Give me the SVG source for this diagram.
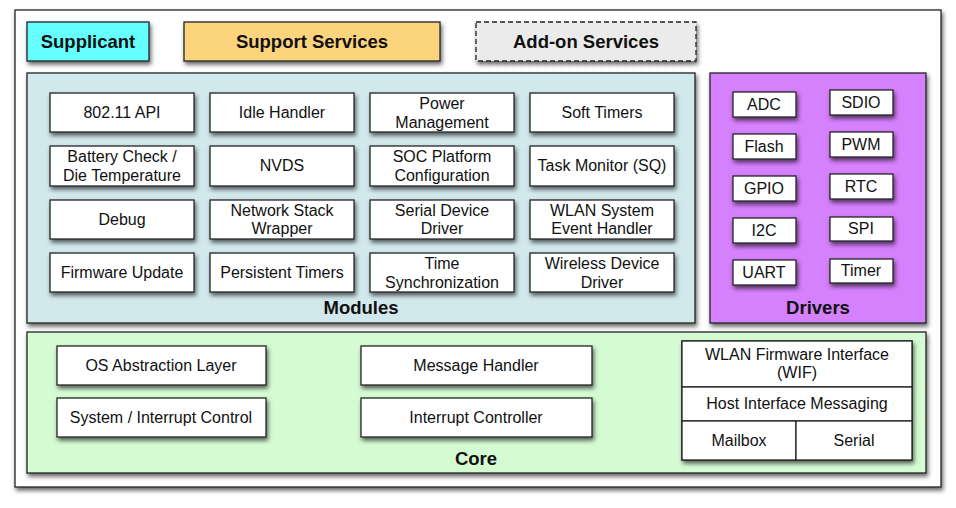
<svg xmlns="http://www.w3.org/2000/svg" width="956" height="508" viewBox="0 0 956 508">
<defs>
<filter id="sh" x="-20%" y="-20%" width="140%" height="150%">
<feDropShadow dx="1.5" dy="3" stdDeviation="2.2" flood-color="#000" flood-opacity="0.6"/>
</filter>
</defs>
<style>
rect{stroke:#222;stroke-width:1.3}
.box{fill:#fff;filter:url(#sh)}
text{font-family:"Liberation Sans",Arial,sans-serif;font-size:16px;fill:#111;text-anchor:middle}
.b{font-weight:bold;font-size:18.5px}
</style>
<rect x="15" y="10" width="926" height="477" fill="#fff" filter="url(#sh)"/>
<g id="supplicant"><rect x="27" y="22" width="122" height="39" fill="#66ffff" filter="url(#sh)"/><text class="b" x="88" y="48">Supplicant</text></g>
<g id="support"><rect x="184" y="22" width="256" height="39" fill="#fcd47e" filter="url(#sh)"/><text class="b" x="312" y="48">Support Services</text></g>
<g id="addon"><rect x="476" y="22" width="220" height="39" fill="#ebebeb" stroke-dasharray="5,3" filter="url(#sh)"/><text class="b" x="586" y="48">Add-on Services</text></g>

<g id="modules"><rect x="27" y="73" width="668" height="250" fill="#d1e8ec" filter="url(#sh)"/><text class="b" x="361" y="314">Modules</text></g>
<g id="m-api"><rect class="box" x="50" y="93" width="144" height="39"/><text x="122" y="118">802.11 API</text></g>
<g id="m-idle"><rect class="box" x="210" y="93" width="144" height="39"/><text x="282" y="118">Idle Handler</text></g>
<g id="m-power"><rect class="box" x="370" y="93" width="144" height="39"/><text x="442" y="109">Power</text><text x="442" y="128">Management</text></g>
<g id="m-soft"><rect class="box" x="530" y="93" width="144" height="39"/><text x="602" y="118">Soft Timers</text></g>
<g id="m-batt"><rect class="box" x="50" y="146" width="144" height="40"/><text x="122" y="162">Battery Check /</text><text x="122" y="181">Die Temperature</text></g>
<g id="m-nvds"><rect class="box" x="210" y="146" width="144" height="40"/><text x="282" y="171">NVDS</text></g>
<g id="m-soc"><rect class="box" x="370" y="146" width="144" height="40"/><text x="442" y="162">SOC Platform</text><text x="442" y="181">Configuration</text></g>
<g id="m-task"><rect class="box" x="530" y="146" width="144" height="40"/><text x="602" y="171">Task Monitor (SQ)</text></g>
<g id="m-debug"><rect class="box" x="50" y="200" width="144" height="39"/><text x="122" y="225">Debug</text></g>
<g id="m-net"><rect class="box" x="210" y="200" width="144" height="39"/><text x="282" y="216">Network Stack</text><text x="282" y="234">Wrapper</text></g>
<g id="m-serial"><rect class="box" x="370" y="200" width="144" height="39"/><text x="442" y="216">Serial Device</text><text x="442" y="234">Driver</text></g>
<g id="m-wlan"><rect class="box" x="530" y="200" width="144" height="39"/><text x="602" y="216">WLAN System</text><text x="602" y="234">Event Handler</text></g>
<g id="m-fw"><rect class="box" x="50" y="253" width="144" height="39"/><text x="122" y="278">Firmware Update</text></g>
<g id="m-pers"><rect class="box" x="210" y="253" width="144" height="39"/><text x="282" y="278">Persistent Timers</text></g>
<g id="m-time"><rect class="box" x="370" y="253" width="144" height="39"/><text x="442" y="269">Time</text><text x="442" y="288">Synchronization</text></g>
<g id="m-wdd"><rect class="box" x="530" y="253" width="144" height="39"/><text x="602" y="269">Wireless Device</text><text x="602" y="288">Driver</text></g>

<g id="drivers"><rect x="710" y="73" width="216" height="250" fill="#d580fc" filter="url(#sh)"/><text class="b" x="818" y="314">Drivers</text></g>
<g id="d-adc"><rect class="box" x="733" y="92" width="63" height="25"/><text x="764" y="110">ADC</text></g>
<g id="d-sdio"><rect class="box" x="830" y="90" width="63" height="25"/><text x="861" y="108">SDIO</text></g>
<g id="d-flash"><rect class="box" x="733" y="134" width="63" height="25"/><text x="764" y="152">Flash</text></g>
<g id="d-pwm"><rect class="box" x="830" y="132" width="63" height="25"/><text x="861" y="150">PWM</text></g>
<g id="d-gpio"><rect class="box" x="733" y="176" width="63" height="25"/><text x="764" y="194">GPIO</text></g>
<g id="d-rtc"><rect class="box" x="830" y="174" width="63" height="25"/><text x="861" y="192">RTC</text></g>
<g id="d-i2c"><rect class="box" x="733" y="218" width="63" height="25"/><text x="764" y="236">I2C</text></g>
<g id="d-spi"><rect class="box" x="830" y="217" width="63" height="24"/><text x="861" y="234">SPI</text></g>
<g id="d-uart"><rect class="box" x="733" y="260" width="63" height="25"/><text x="764" y="278">UART</text></g>
<g id="d-timer"><rect class="box" x="830" y="259" width="63" height="24"/><text x="861" y="276">Timer</text></g>

<g id="core"><rect x="27" y="332" width="899" height="141" fill="#d5fbd3" filter="url(#sh)"/><text class="b" x="476" y="465">Core</text></g>
<g id="c-os"><rect class="box" x="57" y="346" width="209" height="39"/><text x="161" y="371">OS Abstraction Layer</text></g>
<g id="c-sys"><rect class="box" x="57" y="398" width="209" height="39"/><text x="161" y="423">System / Interrupt Control</text></g>
<g id="c-msg"><rect class="box" x="361" y="346" width="231" height="39"/><text x="476" y="371">Message Handler</text></g>
<g id="c-int"><rect class="box" x="361" y="398" width="231" height="39"/><text x="476" y="423">Interrupt Controller</text></g>
<g id="c-stack" filter="url(#sh)">
<rect x="682" y="341" width="230" height="119" fill="#fff"/>
</g>
<g id="c-wif"><rect x="682" y="341" width="230" height="46" fill="#fff"/><text x="797" y="360">WLAN Firmware Interface</text><text x="797" y="378">(WIF)</text></g>
<g id="c-him"><rect x="682" y="387" width="230" height="34" fill="#fff"/><text x="797" y="409">Host Interface Messaging</text></g>
<g id="c-mail"><rect x="682" y="421" width="114" height="39" fill="#fff"/><text x="739" y="446">Mailbox</text></g>
<g id="c-serial"><rect x="796" y="421" width="116" height="39" fill="#fff" stroke-width="1.8"/><text x="854" y="446">Serial</text></g>
</svg>
